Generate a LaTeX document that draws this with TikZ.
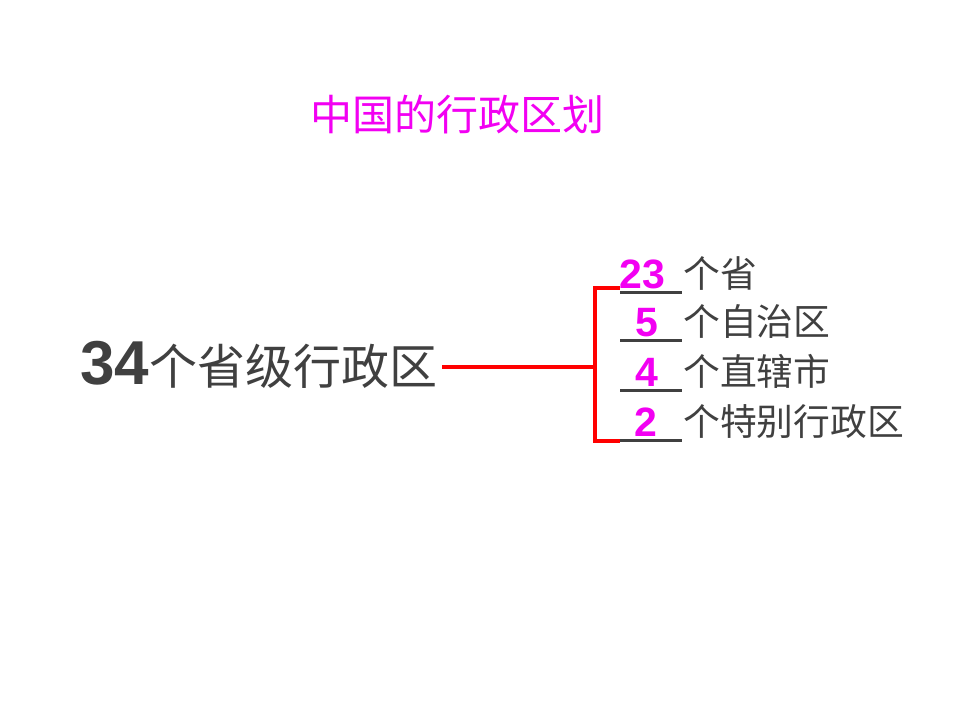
\documentclass[tikz,border=0pt]{standalone}
\usepackage{fontspec}
\setmainfont{Liberation Sans}
\newfontfamily\cjk{Noto Sans CJK SC}
\usetikzlibrary{positioning}
\definecolor{txtgray}{HTML}{404040}
\definecolor{pink}{HTML}{F200F2}

\begin{document}
\begin{tikzpicture}[
  x=1pt, y=-1pt,
  title/.style={text=pink, font=\cjk\fontsize{42}{42}\selectfont, inner sep=0pt},
  num/.style={text=pink, font=\bfseries\fontsize{41}{41}\selectfont, inner sep=0pt, anchor=base},
  item/.style={text=txtgray, font=\cjk\fontsize{36.8}{36.8}\selectfont, inner sep=0pt, anchor=base west},
  redline/.style={red, line width=4pt},
  blank/.style={txtgray, line width=3pt}
]
\useasboundingbox (0,0) rectangle (960,720);

\node[title] (title) at (457,115) {中国的行政区划};
\node[inner sep=0pt, anchor=base west, text=txtgray] (main) at (80,384)
  {\fontsize{62}{62}\selectfont\bfseries 34\cjk\mdseries\fontsize{48}{48}\selectfont 个省级行政区};

% bracket
\coordinate (bmid) at (595,367);
\coordinate (btop) at (595,288);
\coordinate (bbot) at (595,441);
\coordinate (btopr) at (618,288);
\coordinate (bbotr) at (618,441);
\draw[redline] (main.east |- bmid) ++(5,0) -- (bmid);
\draw[redline, line cap=rect] (btopr) -- (btop) -- (bbot) -- (bbotr);

% items
\foreach \ly/\nx/\nn/\txt [count=\i] in
  {292/642/23/个省, 340/647/5/个自治区, 390/647/4/个直辖市, 440/646/2/个特别行政区}{
  \coordinate (l\i) at (620,\ly);
  \coordinate (r\i) at (682,\ly);
  \draw[blank] (l\i) -- (r\i);
  \node[num] (n\i) at (\nx,\ly-4) {\nn};
  \node[item] (t\i) at (683,\ly-5) {\txt};
}
\end{tikzpicture}
\end{document}
